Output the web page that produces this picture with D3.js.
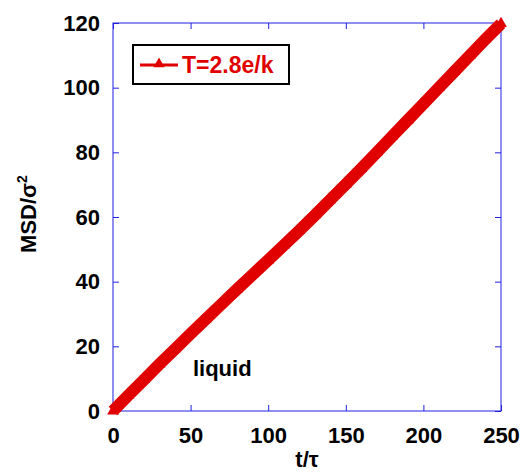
<!DOCTYPE html>
<html>
<head>
<meta charset="utf-8">
<script src="https://cdn.jsdelivr.net/npm/d3@7"></script>
<style>
  body { margin: 0; background: #fff; }
  text { font-family: "Liberation Sans", Arial, sans-serif; font-weight: bold; }
</style>
</head>
<body>
<div id="chart"></div>
<script>
// data
var tValues = [0, 10, 20, 30, 40, 50, 60, 70, 80, 90, 100, 110, 120, 130, 140, 150,
               160, 170, 180, 190, 200, 210, 220, 230, 240, 250];
var msdValues = [0, 4.9, 9.7, 14.5, 19.2, 23.9, 28.5, 33.1, 37.7, 42.2, 46.7, 51.2, 55.8, 60.5,
                 65.3, 70.1, 75.0, 80.0, 85.0, 90.0, 95.0, 100.0, 105.0, 110.0, 115.0, 119.8];
var xTicks = [0, 50, 100, 150, 200, 250];
var yTicks = [0, 20, 40, 60, 80, 100, 120];
var seriesName = "T=2.8e/k";

var width = 524, height = 475;
var margin = {top: 23, right: 23, bottom: 64, left: 113};
var w = width - margin.left - margin.right,
    h = height - margin.top - margin.bottom;

var svg = d3.select("#chart").append("svg")
    .attr("width", width)
    .attr("height", height);

var g = svg.append("g")
    .attr("transform", "translate(" + margin.left + "," + margin.top + ")");

var x = d3.scaleLinear().domain([0, 250]).range([0, w]);
var y = d3.scaleLinear().domain([0, 120]).range([h, 0]);

var axisColor = "#2020e0";

// frame
g.append("rect")
    .attr("width", w).attr("height", h)
    .attr("fill", "none")
    .attr("stroke", axisColor)
    .attr("stroke-width", 1);

// ticks inward on all four sides
function styleAxis(sel) {
    sel.select(".domain").remove();
    sel.selectAll("line").attr("stroke", axisColor);
    sel.selectAll("text")
        .attr("fill", "#000")
        .style("font-size", "22px");
}

g.append("g")
    .attr("transform", "translate(0," + h + ")")
    .call(d3.axisBottom(x).tickValues(xTicks).tickSizeInner(-6).tickSizeOuter(0).tickPadding(16))
    .call(styleAxis);
g.append("g")
    .call(d3.axisTop(x).tickValues(xTicks).tickSizeInner(-6).tickSizeOuter(0).tickFormat(""))
    .call(styleAxis);
g.append("g")
    .call(d3.axisLeft(y).tickValues(yTicks).tickSizeInner(-6).tickSizeOuter(0).tickPadding(13))
    .call(styleAxis);
g.append("g")
    .attr("transform", "translate(" + w + ",0)")
    .call(d3.axisRight(y).tickValues(yTicks).tickSizeInner(-6).tickSizeOuter(0).tickFormat(""))
    .call(styleAxis);

// data
var data = tValues.map(function (d, i) { return [d, msdValues[i]]; });
var red = "#e00000";

g.append("path")
    .datum(data)
    .attr("fill", "none")
    .attr("stroke", red)
    .attr("stroke-width", 12)
    .attr("d", d3.line()
        .x(function (d) { return x(d[0]); })
        .y(function (d) { return y(d[1]); }));

var tri = d3.symbol().type(d3.symbolTriangle).size(60);
g.selectAll("path.marker")
    .data(data)
    .enter()
    .append("path")
    .attr("class", "marker")
    .attr("d", tri)
    .attr("fill", red)
    .attr("transform", function (d) {
        return "translate(" + x(d[0]) + "," + y(d[1]) + ")";
    });

// annotation
g.append("text")
    .attr("x", x(51.5))
    .attr("y", y(10.8))
    .style("font-size", "22px")
    .attr("fill", "#000")
    .text("liquid");

// legend
var legend = g.append("g").attr("transform", "translate(20,22)");
legend.append("rect")
    .attr("width", 156).attr("height", 39)
    .attr("fill", "#fff")
    .attr("stroke", "#000")
    .attr("stroke-width", 2);
legend.append("line")
    .attr("x1", 7).attr("x2", 45)
    .attr("y1", 20).attr("y2", 20)
    .attr("stroke", red).attr("stroke-width", 3);
legend.append("path")
    .attr("d", d3.symbol().type(d3.symbolTriangle).size(55))
    .attr("fill", red)
    .attr("transform", "translate(26,19)");
legend.append("text")
    .attr("x", 49).attr("y", 28)
    .attr("fill", red)
    .style("font-size", "23px")
    .text(seriesName);

// axis titles
svg.append("text")
    .attr("x", margin.left + w / 2)
    .attr("y", 467)
    .attr("text-anchor", "middle")
    .style("font-size", "22px")
    .text("t/\u03c4");

var ylab = svg.append("text")
    .attr("transform", "translate(36," + (margin.top + h / 2 - 3) + ") rotate(-90)")
    .attr("text-anchor", "middle")
    .style("font-size", "22px");
ylab.append("tspan").text("MSD/\u03c3");
ylab.append("tspan").attr("dy", -9).style("font-size", "14px").text("2");
</script>
</body>
</html>
